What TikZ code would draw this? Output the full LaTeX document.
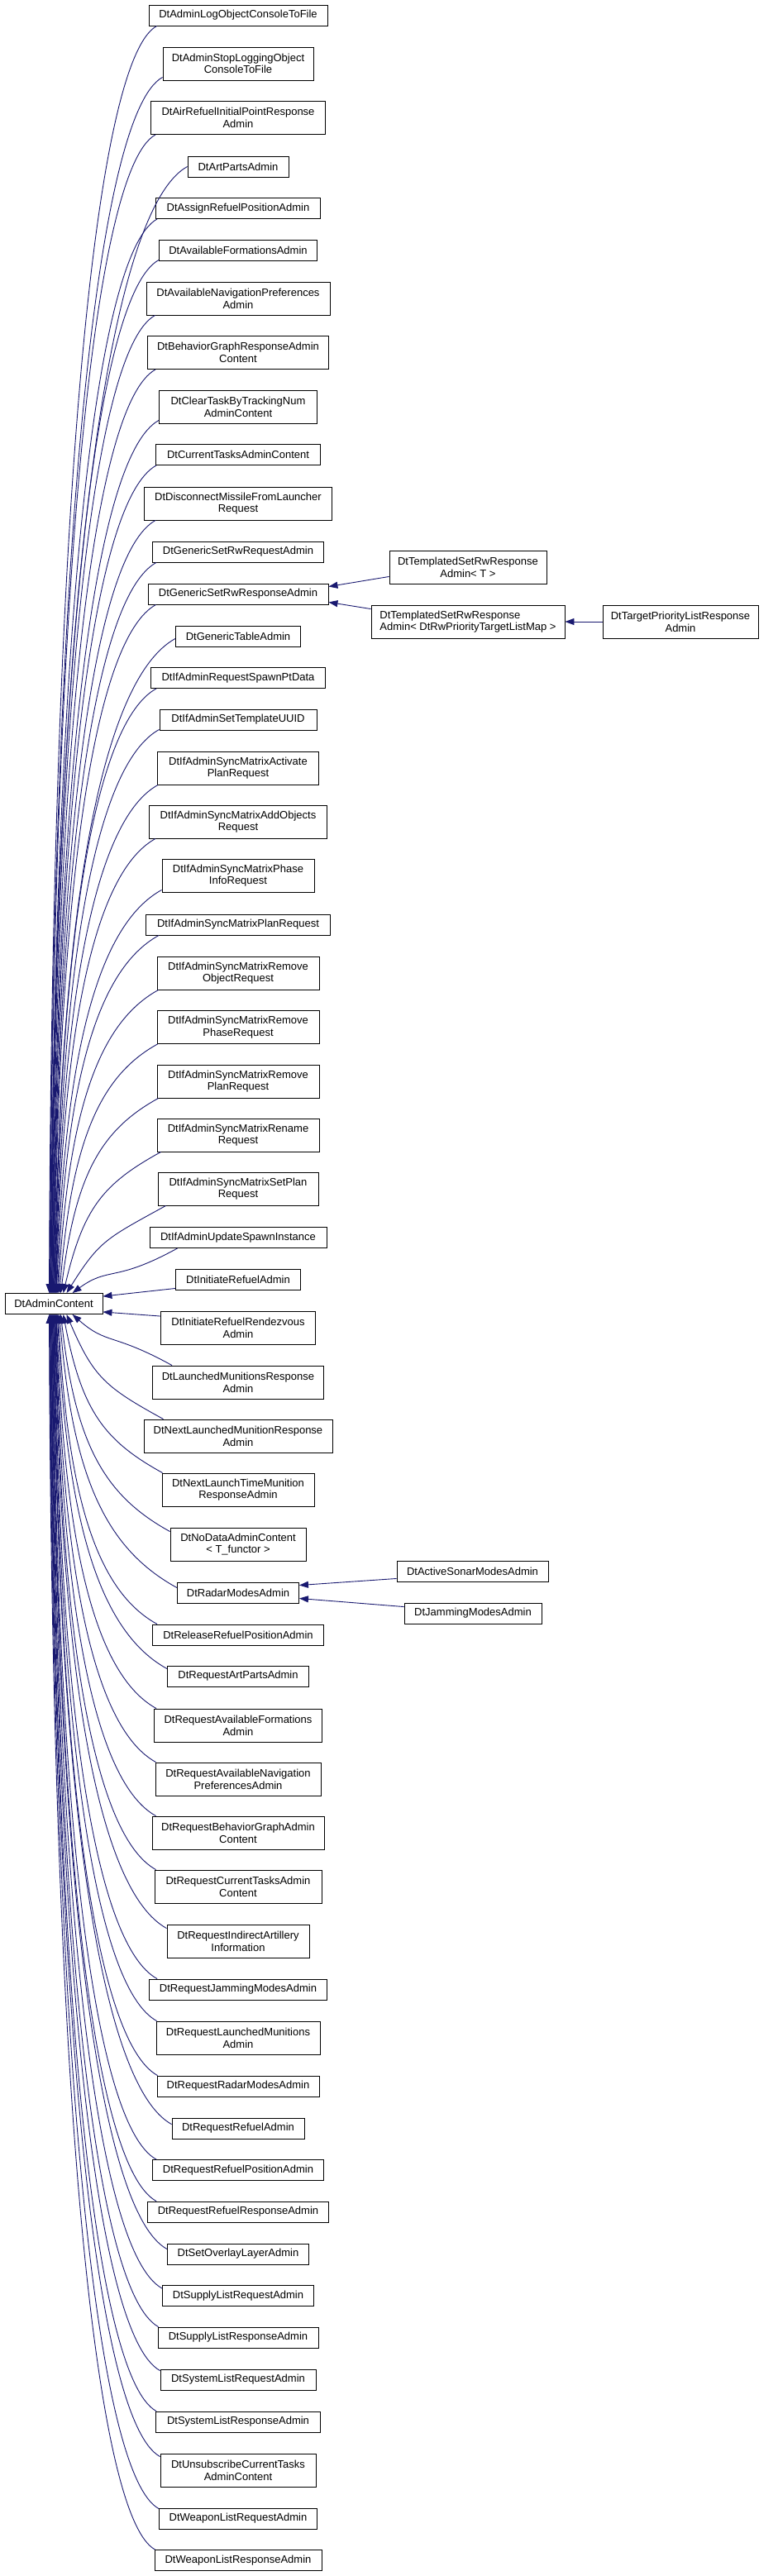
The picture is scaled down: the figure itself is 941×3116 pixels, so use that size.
\documentclass[tikz,border=0pt]{standalone}
\usepackage{fontspec}
\setmainfont{Liberation Sans}
\usetikzlibrary{arrows.meta,calc}
\definecolor{edgecol}{HTML}{191970}
\tikzset{
  cls/.style={draw=black, line width=0.9pt, fill=white, inner sep=0pt, align=center,
    font=\fontsize{13}{14.7}\selectfont},
  inhedge/.style={draw=edgecol, line width=0.9pt, {Triangle[length=11pt,width=8pt]}-},
}
\newcommand\cnode[5]{\node[cls, minimum width=#3pt, minimum height=#4pt] (#1) at (288,-#2) {#5};}
\newcommand\inh[2]{\draw[inhedge] let \p1=(#1), \p2=(#2), \n1={\x2-\x1}, \n2={\y2-\y1},
  \n3={0.35*min(1,100/abs(\n2))}, \n4={\n2/abs(\n2)} in
  (\p1) .. controls (\x1+\n3*\n1, \y1+0.6*\n2) and (\x2-0.6*\n1, \y2-0.33*\n4*\n1) .. (\p2);}
\begin{document}
\begin{tikzpicture}[x=1pt,y=1pt]
\fill[white] (0,0) rectangle (941,-3116);
\useasboundingbox (0,0) rectangle (941,-3116);
\node[cls, minimum width=118pt, minimum height=25pt] (ac) at (65,-1577) {DtAdminContent};
\cnode{c1}{18.5}{216}{25}{DtAdminLogObjectConsoleToFile}
\cnode{c2}{77}{182}{40}{DtAdminStopLoggingObject\\ConsoleToFile}
\cnode{c3}{142.5}{211}{40}{DtAirRefuelInitialPointResponse\\Admin}
\cnode{c4}{201.5}{122}{25}{DtArtPartsAdmin}
\cnode{c5}{252}{199}{25}{DtAssignRefuelPositionAdmin}
\cnode{c6}{302.5}{191}{25}{DtAvailableFormationsAdmin}
\cnode{c7}{361}{222}{40}{DtAvailableNavigationPreferences\\Admin}
\cnode{c8}{426.5}{219}{40}{DtBehaviorGraphResponseAdmin\\Content}
\cnode{c9}{492}{191}{40}{DtClearTaskByTrackingNum\\AdminContent}
\cnode{c10}{550}{199}{25}{DtCurrentTasksAdminContent}
\cnode{c11}{609}{227}{40}{DtDisconnectMissileFromLauncher\\Request}
\cnode{c12}{667.5}{207}{25}{DtGenericSetRwRequestAdmin}
\cnode{c13}{718.5}{218}{25}{DtGenericSetRwResponseAdmin}
\cnode{c14}{769.5}{151}{25}{DtGenericTableAdmin}
\cnode{c15}{820}{211}{25}{DtIfAdminRequestSpawnPtData}
\cnode{c16}{870.5}{190}{25}{DtIfAdminSetTemplateUUID}
\cnode{c17}{929}{195}{40}{DtIfAdminSyncMatrixActivate\\PlanRequest}
\cnode{c18}{994}{215}{40}{DtIfAdminSyncMatrixAddObjects\\Request}
\cnode{c19}{1059}{184}{40}{DtIfAdminSyncMatrixPhase\\InfoRequest}
\cnode{c20}{1118.5}{223}{25}{DtIfAdminSyncMatrixPlanRequest}
\cnode{c21}{1177}{196}{40}{DtIfAdminSyncMatrixRemove\\ObjectRequest}
\cnode{c22}{1242.5}{196}{40}{DtIfAdminSyncMatrixRemove\\PhaseRequest}
\cnode{c23}{1308}{196}{40}{DtIfAdminSyncMatrixRemove\\PlanRequest}
\cnode{c24}{1373}{196}{40}{DtIfAdminSyncMatrixRename\\Request}
\cnode{c25}{1438}{194}{40}{DtIfAdminSyncMatrixSetPlan\\Request}
\cnode{c26}{1497}{214}{25}{DtIfAdminUpdateSpawnInstance}
\cnode{c27}{1547.5}{151}{25}{DtInitiateRefuelAdmin}
\cnode{c28}{1606.5}{187}{40}{DtInitiateRefuelRendezvous\\Admin}
\cnode{c29}{1672}{207}{40}{DtLaunchedMunitionsResponse\\Admin}
\cnode{c30}{1737}{228}{40}{DtNextLaunchedMunitionResponse\\Admin}
\cnode{c31}{1802}{184}{40}{DtNextLaunchTimeMunition\\ResponseAdmin}
\cnode{c32}{1868}{164}{40}{DtNoDataAdminContent\\< T\_functor >}
\cnode{c33}{1926.5}{147}{25}{DtRadarModesAdmin}
\cnode{c34}{1977.5}{207}{25}{DtReleaseRefuelPositionAdmin}
\cnode{c35}{2027.5}{171}{25}{DtRequestArtPartsAdmin}
\cnode{c36}{2087}{203}{40}{DtRequestAvailableFormations\\Admin}
\cnode{c37}{2152}{200}{40}{DtRequestAvailableNavigation\\PreferencesAdmin}
\cnode{c38}{2217}{208}{40}{DtRequestBehaviorGraphAdmin\\Content}
\cnode{c39}{2282}{202}{40}{DtRequestCurrentTasksAdmin\\Content}
\cnode{c40}{2348}{172}{40}{DtRequestIndirectArtillery\\Information}
\cnode{c41}{2406.5}{215}{25}{DtRequestJammingModesAdmin}
\cnode{c42}{2465}{198}{40}{DtRequestLaunchedMunitions\\Admin}
\cnode{c43}{2523.5}{196}{25}{DtRequestRadarModesAdmin}
\cnode{c44}{2574.5}{160}{25}{DtRequestRefuelAdmin}
\cnode{c45}{2625}{207}{25}{DtRequestRefuelPositionAdmin}
\cnode{c46}{2675.5}{219}{25}{DtRequestRefuelResponseAdmin}
\cnode{c47}{2726.5}{171}{25}{DtSetOverlayLayerAdmin}
\cnode{c48}{2777}{183}{25}{DtSupplyListRequestAdmin}
\cnode{c49}{2827.5}{194}{25}{DtSupplyListResponseAdmin}
\cnode{c50}{2878.5}{188}{25}{DtSystemListRequestAdmin}
\cnode{c51}{2929.5}{199}{25}{DtSystemListResponseAdmin}
\cnode{c52}{2988}{188}{40}{DtUnsubscribeCurrentTasks\\AdminContent}
\cnode{c53}{3046.5}{191}{25}{DtWeaponListRequestAdmin}
\cnode{c54}{3097}{202}{25}{DtWeaponListResponseAdmin}
\node[cls, minimum width=190pt, minimum height=40pt] (tA) at (566,-686.5) {DtTemplatedSetRwResponse\\Admin< T >};
\node[cls, align=left, minimum width=234pt, minimum height=40pt] (tB) at (566,-752) {DtTemplatedSetRwResponse\\Admin< DtRwPriorityTargetListMap >};
\node[cls, minimum width=188pt, minimum height=40pt] (tp) at (823,-752) {DtTargetPriorityListResponse\\Admin};
\node[cls, minimum width=183pt, minimum height=25pt] (as) at (571.5,-1901) {DtActiveSonarModesAdmin};
\node[cls, minimum width=166pt, minimum height=25pt] (jm) at (572,-1951.5) {DtJammingModesAdmin};
% edges from children above
\inh{[xshift=54pt]ac.north west}{[xshift=10pt]c1.south west}
\inh{[xshift=54.5pt]ac.north west}{[yshift=4pt]c2.south west}
\inh{[xshift=55pt]ac.north west}{[xshift=6pt]c3.south west}
\inh{[xshift=55.5pt]ac.north west}{c4.west}
\inh{[xshift=56pt]ac.north west}{[xshift=2pt]c5.south west}
\inh{[xshift=56.5pt]ac.north west}{[yshift=1pt]c6.south west}
\inh{[xshift=57pt]ac.north west}{[xshift=11pt]c7.south west}
\inh{[xshift=57.5pt]ac.north west}{[xshift=10pt]c8.south west}
\inh{[xshift=58pt]ac.north west}{[yshift=4pt]c9.south west}
\inh{[xshift=58.5pt]ac.north west}{[xshift=1pt]c10.south west}
\inh{[xshift=59pt]ac.north west}{[xshift=14pt]c11.south west}
\inh{[xshift=59.5pt]ac.north west}{[xshift=5pt]c12.south west}
\inh{[xshift=60pt]ac.north west}{[xshift=10pt]c13.south west}
\inh{[xshift=60.5pt]ac.north west}{[yshift=10pt]c14.south west}
\inh{[xshift=61pt]ac.north west}{[xshift=7pt]c15.south west}
\inh{[xshift=61.5pt]ac.north west}{[yshift=1pt]c16.south west}
\inh{[xshift=62pt]ac.north west}{[xshift=1pt]c17.south west}
\inh{[xshift=62.5pt]ac.north west}{[xshift=8pt]c18.south west}
\inh{[xshift=63pt]ac.north west}{[yshift=3pt]c19.south west}
\inh{[xshift=64pt]ac.north west}{[xshift=16pt]c20.south west}
\inh{[xshift=65pt]ac.north west}{[xshift=2pt]c21.south west}
\inh{[xshift=66.5pt]ac.north west}{[xshift=1pt]c22.south west}
\inh{[xshift=68pt]ac.north west}{[xshift=2pt]c23.south west}
\inh{[xshift=71pt]ac.north west}{[xshift=5pt]c24.south west}
\inh{[xshift=75pt]ac.north west}{[xshift=10pt]c25.south west}
\inh{[xshift=82pt]ac.north west}{[xshift=34pt]c26.south west}
\draw[inhedge] ([yshift=-4pt]ac.north east) -- ([yshift=2pt]c27.south west);
\draw[inhedge] ([yshift=3pt]ac.south east) -- ([yshift=-6pt]c28.north west);
% edges from children below
\inh{[xshift=82pt]ac.south west}{[xshift=24pt]c29.north west}
\inh{[xshift=75pt]ac.south west}{[xshift=24pt]c30.north west}
\inh{[xshift=71pt]ac.south west}{[xshift=1pt]c31.north west}
\inh{[xshift=68pt]ac.south west}{[yshift=-5pt]c32.north west}
\inh{[xshift=66.5pt]ac.south west}{[yshift=-7pt]c33.north west}
\inh{[xshift=65pt]ac.south west}{[xshift=6pt]c34.north west}
\inh{[xshift=64pt]ac.south west}{[yshift=-4pt]c35.north west}
\inh{[xshift=63pt]ac.south west}{[xshift=3pt]c36.north west}
\inh{[xshift=62.5pt]ac.south west}{[xshift=1pt]c37.north west}
\inh{[xshift=62pt]ac.south west}{[xshift=5pt]c38.north west}
\inh{[xshift=61.5pt]ac.south west}{[xshift=2pt]c39.north west}
\inh{[xshift=61pt]ac.south west}{[yshift=-5pt]c40.north west}
\inh{[xshift=60.5pt]ac.south west}{[xshift=10pt]c41.north west}
\inh{[xshift=60pt]ac.south west}{[xshift=1pt]c42.north west}
\inh{[xshift=59.5pt]ac.south west}{[xshift=1pt]c43.north west}
\inh{[xshift=59pt]ac.south west}{[yshift=-8pt]c44.north west}
\inh{[xshift=58.5pt]ac.south west}{[xshift=5pt]c45.north west}
\inh{[xshift=58pt]ac.south west}{[xshift=11pt]c46.north west}
\inh{[xshift=57.5pt]ac.south west}{[yshift=-7pt]c47.north west}
\inh{[xshift=57pt]ac.south west}{[yshift=-4pt]c48.north west}
\inh{[xshift=56.5pt]ac.south west}{[xshift=1pt]c49.north west}
\inh{[xshift=56pt]ac.south west}{[yshift=-2pt]c50.north west}
\inh{[xshift=55.5pt]ac.south west}{[xshift=1pt]c51.north west}
\inh{[xshift=55pt]ac.south west}{[yshift=-4pt]c52.north west}
\inh{[xshift=54.5pt]ac.south west}{[yshift=-1pt]c53.north west}
\inh{[xshift=54pt]ac.south west}{[xshift=1pt]c54.north west}
% other inheritance
\draw[inhedge] ([yshift=-4pt]c13.north east) -- ([yshift=9.5pt]tA.south west);
\draw[inhedge] ([yshift=3pt]c13.south east) -- ([yshift=-5pt]tB.north west);
\draw[inhedge] (tB.east) -- (tp.west);
\draw[inhedge] ([yshift=-4pt]c33.north east) -- ([yshift=4.5pt]as.south west);
\draw[inhedge] ([yshift=6pt]c33.south east) -- ([yshift=-5pt]jm.north west);
\end{tikzpicture}
\end{document}
